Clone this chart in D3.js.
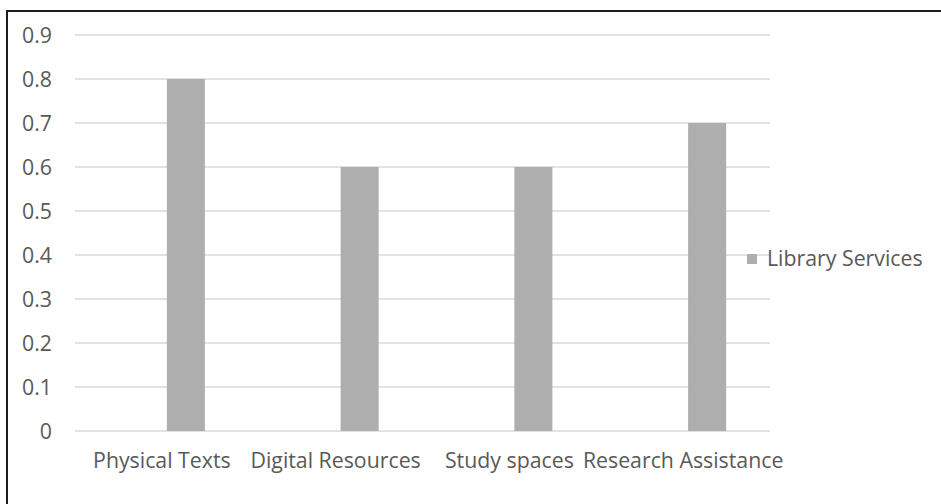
<!DOCTYPE html>
<html>
<head>
<meta charset="utf-8">
<script src="https://cdn.jsdelivr.net/npm/d3@7"></script>
<style>
  html, body { margin: 0; padding: 0; background: #fff; }
  svg { display: block; }
  text { font-family: "Open Sans", "Noto Sans", sans-serif; fill: #595959; }
</style>
</head>
<body>
<svg id="chart" width="941" height="504"></svg>
<script>
// Library service ratings
const categories = ["Physical Texts", "Digital Resources", "Study spaces", "Research Assistance"];
const seriesName = "Library Services";
const values = [0.8, 0.6, 0.6, 0.7];
const yTicks = [0, 0.1, 0.2, 0.3, 0.4, 0.5, 0.6, 0.7, 0.8, 0.9];

const svg = d3.select("#chart");
const W = 941, H = 504;

const plot = { left: 75, right: 770, top: 35, bottom: 431 };
const barColor = "#aeaeae";
const gridColor = "#d9d9d9";
const fontSize = 21.3;

// outer frame (left and top edges visible)
svg.append("path")
  .attr("d", `M7,${H + 2} L7,11 L${W + 2},11`)
  .attr("fill", "none")
  .attr("stroke", "#1c1c1c")
  .attr("stroke-width", 2);

const x = d3.scaleBand().domain(categories).range([plot.left, plot.right]);
const y = d3.scaleLinear().domain([0, 0.9]).range([plot.bottom, plot.top]);

// horizontal gridlines
svg.append("g").selectAll("line")
  .data(yTicks)
  .join("line")
  .attr("x1", plot.left)
  .attr("x2", plot.right)
  .attr("y1", d => y(d))
  .attr("y2", d => y(d))
  .attr("stroke", gridColor)
  .attr("stroke-width", 1.5);

// y axis labels
const yAxis = d3.axisLeft(y).tickValues(yTicks).tickSize(0).tickPadding(0)
  .tickFormat(d => d === 0 ? "0" : d3.format(".1f")(d));
const gy = svg.append("g").attr("transform", "translate(52,0)").call(yAxis);
gy.select(".domain").remove();
gy.selectAll("text")
  .attr("font-size", fontSize)
  .attr("font-family", null)
  .attr("fill", "#595959")
  .attr("dy", "0.35em");

// x axis labels
const xAxis = d3.axisBottom(x).tickSize(0).tickPadding(0);
const gx = svg.append("g").attr("transform", "translate(0,453)").call(xAxis);
gx.select(".domain").remove();
gx.selectAll("text")
  .attr("font-size", fontSize)
  .attr("font-family", null)
  .attr("fill", "#595959")
  .attr("dy", "0.71em");

// bars (series slot sits right of the category centre)
const barW = 38;
const barShift = 24;
svg.append("g").selectAll("rect")
  .data(categories.map((c, i) => ({ c, v: values[i] })))
  .join("rect")
  .attr("x", d => x(d.c) + x.bandwidth() / 2 + barShift - barW / 2)
  .attr("width", barW)
  .attr("y", d => y(d.v))
  .attr("height", d => y(0) - y(d.v))
  .attr("fill", barColor);

// legend
const lg = svg.append("g").attr("transform", "translate(747,254)");
lg.append("rect").attr("width", 10).attr("height", 10).attr("fill", barColor);
lg.append("text")
  .attr("x", 20)
  .attr("y", 5)
  .attr("dy", "0.35em")
  .attr("font-size", fontSize)
  .text(seriesName);
</script>
</body>
</html>
